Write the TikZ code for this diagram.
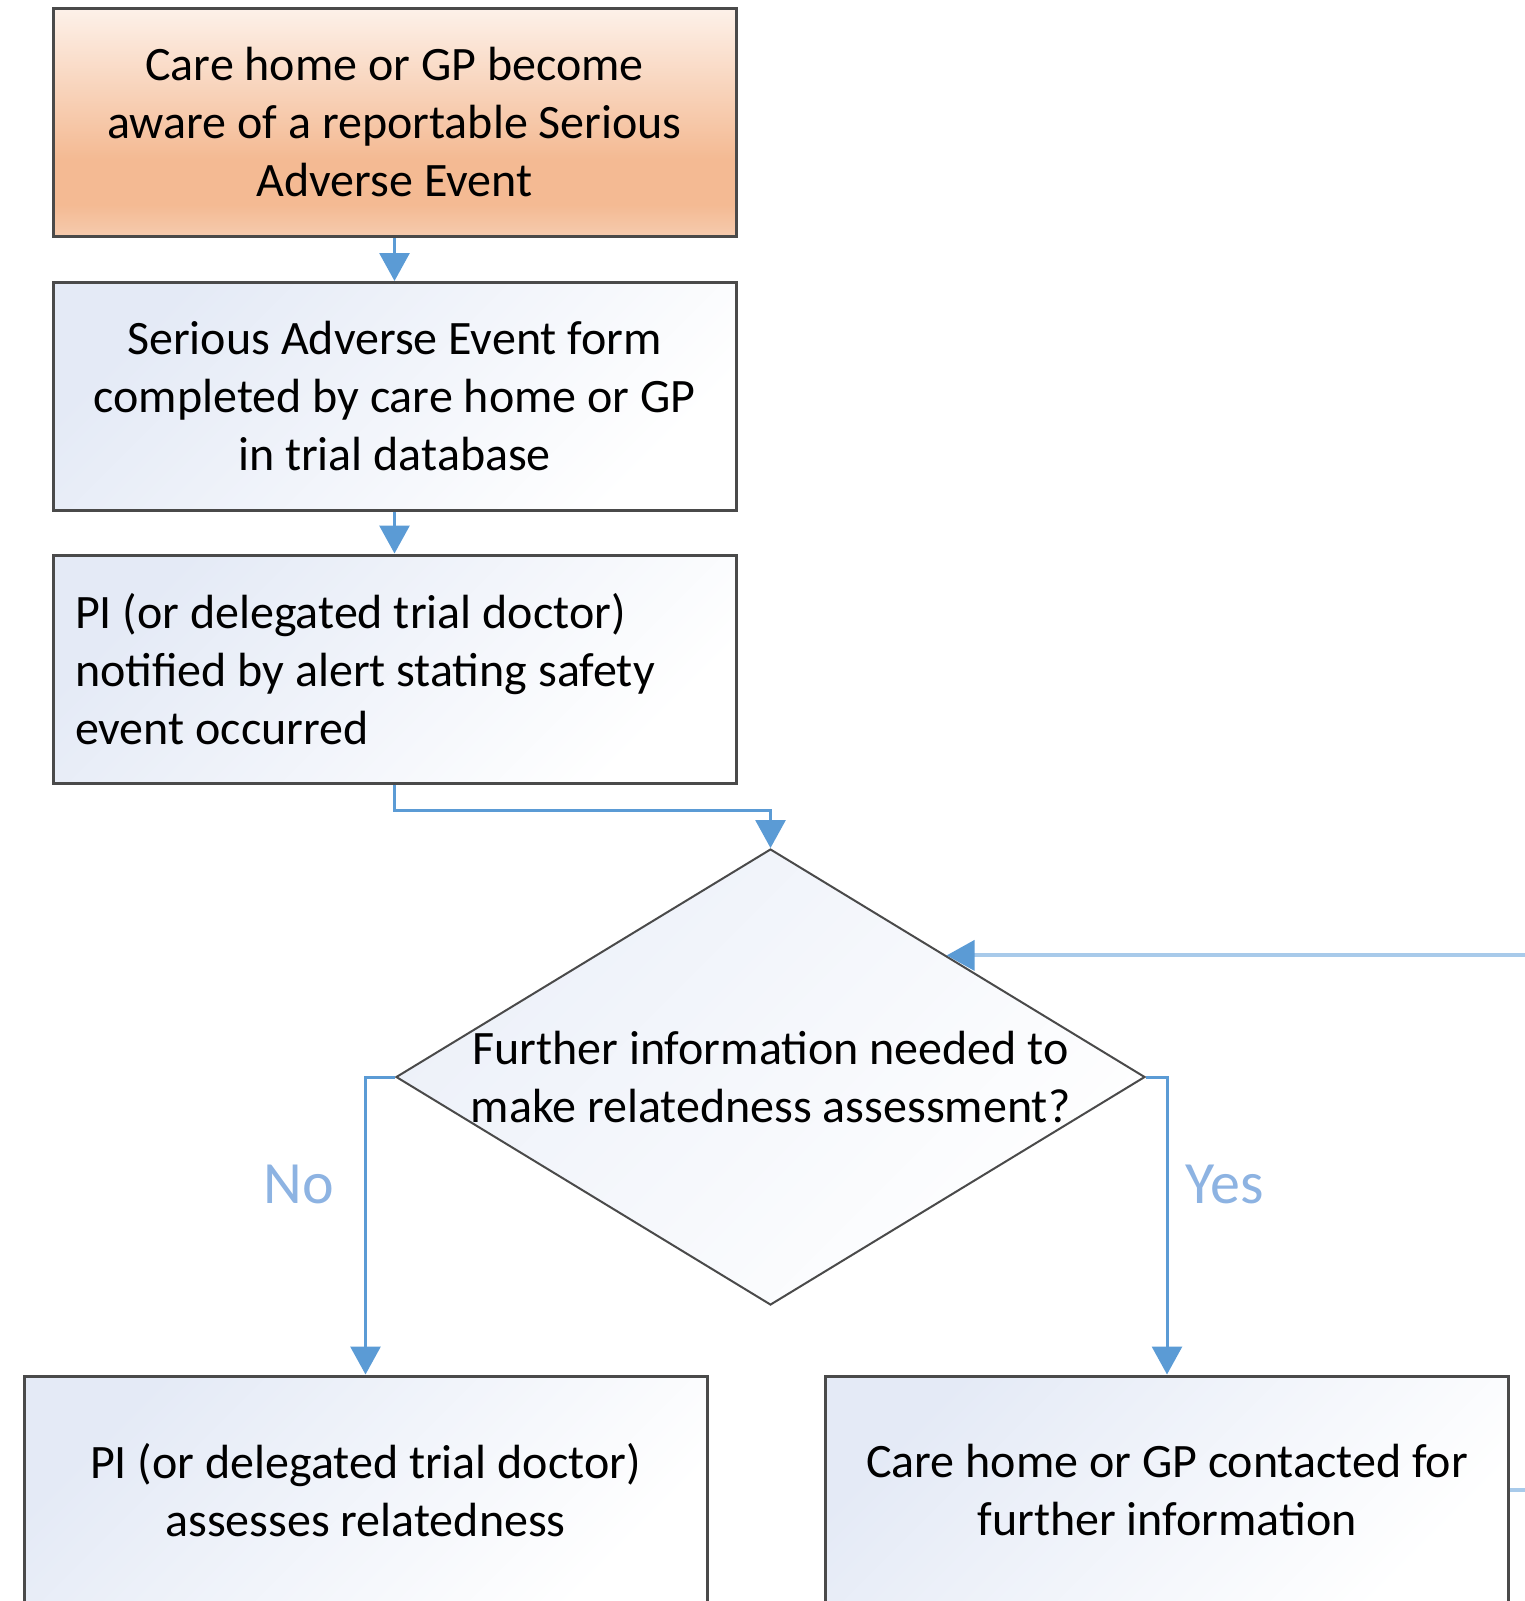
\documentclass[tikz,border=0pt]{standalone}
\usepackage{fontspec}
\setmainfont{Carlito}
\usetikzlibrary{shapes.geometric,arrows.meta,calc}

\definecolor{flowblue}{HTML}{5B9BD5}
\definecolor{returnblue}{HTML}{A8CAEA}
\definecolor{labelblue}{HTML}{8DB3E2}
\definecolor{edgegray}{HTML}{4A4A4A}
\definecolor{peachT}{HTML}{FDF1E9}
\definecolor{peachM}{HTML}{F4BA93}
\definecolor{peachB}{HTML}{F6CBAE}
\definecolor{mist}{HTML}{E4EAF6}

% warm gradient of the starting box: pale at the top, deepest near the bottom
\pgfdeclareverticalshading{peach}{100bp}{color(0bp)=(peachB); color(25bp)=(peachB); color(32bp)=(peachM); color(42bp)=(peachM); color(75bp)=(peachT); color(100bp)=(peachT)}

\begin{document}
\begin{tikzpicture}[x=0.5pt,y=-0.5pt,
  box/.style={rectangle, draw=edgegray, line width=1.5pt,
    minimum width=341.5pt, minimum height=114pt, inner sep=0pt,
    font=\fontsize{24}{29}\selectfont, text=black, align=center,
    top color=mist, bottom color=white, shading angle=45},
  startbox/.style={box, shading=peach, shading angle=0},
  leftbox/.style={box, align=flush left, text width=319.5pt, inner xsep=11pt},
  decision/.style={diamond, draw=edgegray, line width=1pt,
    minimum width=374.5pt, minimum height=228pt, inner sep=0pt,
    top color=mist!70, bottom color=white, shading angle=45},
  decisiontext/.style={font=\fontsize{24}{29}\selectfont, text=black, align=center, inner sep=0pt},
  flow/.style={draw=flowblue, line width=1.5pt, -{Triangle[length=14pt,width=15pt]}},
  feedback/.style={draw=returnblue, line width=2pt, -{Triangle[length=14pt,width=15pt,color=flowblue]}},
  branchlabel/.style={text=labelblue, font=\fontsize{30}{36}\selectfont, inner sep=0pt}
]
\useasboundingbox (0,0) rectangle (1525,1601);
\clip (0,0) rectangle (1525,1601);

% process boxes
\node[startbox] (aware) at (394.5,122.5) {Care home or GP become\\aware of a reportable Serious\\Adverse Event};
\node[box] (form) at (394.5,396.5) {Serious Adverse Event form\\completed by care home or GP\\in trial database};
\node[leftbox] (notify) at (394.5,669) {PI (or delegated trial doctor)\\notified by alert stating safety\\event occurred};

% decision
\node[decision] (further) at (770.5,1077) {};
\node[decisiontext] (furthertext) at (further.center) {Further information needed to\\make relatedness assessment?};

% outcomes
\node[box] (assess) at (365.5,1490) {PI (or delegated trial doctor)\\assesses relatedness};
\node[box] (contact) at (1167,1490) {Care home or GP contacted for\\further information};

% point where the return path meets the decision
\coordinate (loopin) at ($(further.north)!0.469!(further.east)$);

% connectors
\draw[flow] (aware) -- (form);
\draw[flow] (form) -- (notify);
\draw[flow] (notify.south) -- ++(0,26) -| (further.north);
\draw[flow] (further.west) -| node[branchlabel, pos=0.68, anchor=east, xshift=-15pt] {No} (assess.north);
\draw[flow] (further.east) -| node[branchlabel, pos=0.68, anchor=west, xshift=8.5pt] {Yes} (contact.north);
\draw[feedback] (contact.east) -- ++(60,0) |- (loopin);
\end{tikzpicture}
\end{document}
